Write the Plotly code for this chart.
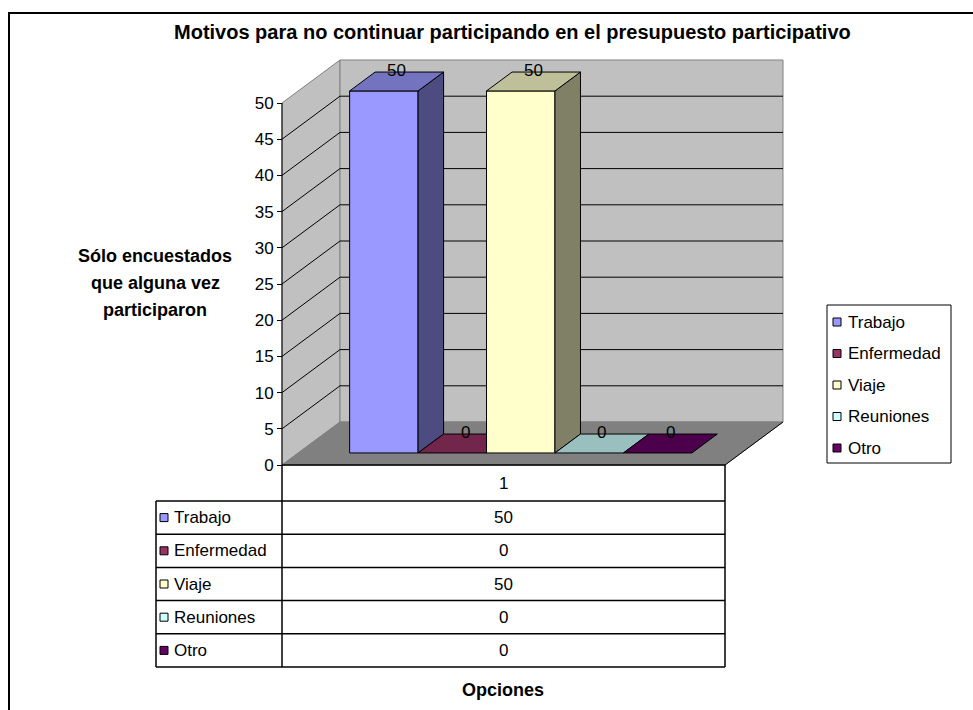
import plotly.graph_objects as go

# ---------------- data ----------------
title_text = "Motivos para no continuar participando en el presupuesto participativo"
y_title_lines = ["Sólo encuestados", "que alguna vez", "participaron"]
x_title = "Opciones"
categories = ["1"]
series = ["Trabajo", "Enfermedad", "Viaje", "Reuniones", "Otro"]
values = [50, 0, 50, 0, 0]
colors = ["#9999FF", "#993366", "#FFFFCC", "#CCFFFF", "#660066"]
y_ticks = [0, 5, 10, 15, 20, 25, 30, 35, 40, 45, 50]

# ---------------- geometry ----------------
W, H = 973, 710
X0, Y0 = 282, 465          # front-floor origin (pixels)
FRONT_W = 443              # front plane width (pixels)
PX_PER_UNIT = 7.24         # pixels per value unit
DEPTH_DX, DEPTH_DY = 58, 43
DXU = DEPTH_DX / FRONT_W
DYU = DEPTH_DY / PX_PER_UNIT
YMAX = max(y_ticks)
BAR_START, BAR_W = 0.116, 0.1545
TF, TB = 0.28, 0.72
FONT = "Liberation Sans, Arial, sans-serif"


def P(u, v, t):
    return u + t * DXU, v + t * DYU


def px(x):
    return x / W


def py(y):
    return 1 - y / H


def shade(hexcol, f):
    h = hexcol.lstrip("#")
    r, g, b = (int(h[i:i + 2], 16) for i in (0, 2, 4))
    return "#%02X%02X%02X" % (round(r * f), round(g * f), round(b * f))


fig = go.Figure()


def poly(pts, fill, line="black", width=1):
    xs = [p[0] for p in pts] + [pts[0][0]]
    ys = [p[1] for p in pts] + [pts[0][1]]
    fig.add_trace(go.Scatter(x=xs, y=ys, mode="lines", fill="toself",
                             fillcolor=fill, line=dict(color=line, width=width),
                             hoverinfo="skip", showlegend=False))


def seg(a, b, color="black", width=1):
    fig.add_trace(go.Scatter(x=[a[0], b[0]], y=[a[1], b[1]], mode="lines",
                             line=dict(color=color, width=width),
                             hoverinfo="skip", showlegend=False))


def text(x, y, s, size=17, xanchor="center", bold=False):
    fig.add_annotation(xref="paper", yref="paper", x=px(x), y=py(y),
                       text=("<b>%s</b>" % s) if bold else s, showarrow=False,
                       xanchor=xanchor, yanchor="middle",
                       font=dict(family=FONT, size=size, color="black"))


# walls and floor
poly([P(0, 0, 0), P(0, 0, 1), P(0, YMAX, 1), P(0, YMAX, 0)], "#C0C0C0", "#808080")
poly([P(0, 0, 1), P(1, 0, 1), P(1, YMAX, 1), P(0, YMAX, 1)], "#C0C0C0", "#808080")
poly([P(0, 0, 0), P(1, 0, 0), P(1, 0, 1), P(0, 0, 1)], "#808080", "#808080")
seg(P(1, 0, 0), P(1, 0, 1))
# gridlines
for k in y_ticks[1:-1]:
    seg(P(0, k, 0), P(0, k, 1))
    seg(P(0, k, 1), P(1, k, 1))

# bars (3D)
for i, (name, v, c) in enumerate(zip(series, values, colors)):
    u0 = BAR_START + i * BAR_W
    u1 = u0 + BAR_W
    if v > 0:
        poly([P(u0, 0, TF), P(u1, 0, TF), P(u1, v, TF), P(u0, v, TF)], c)
        poly([P(u1, 0, TF), P(u1, 0, TB), P(u1, v, TB), P(u1, v, TF)], shade(c, 0.5))
    poly([P(u0, v, TF), P(u1, v, TF), P(u1, v, TB), P(u0, v, TB)], shade(c, 0.75))
    lx, ly = P((u0 + u1) / 2, v, 0.5)
    fig.add_annotation(x=lx, y=ly, xref="x", yref="y", text=str(v), showarrow=False,
                       xanchor="center", yanchor="bottom",
                       font=dict(family=FONT, size=17, color="black"))

# value axis line
seg(P(0, 0, 0), P(0, YMAX, 0))

shapes = []
# data table
row_top = 501
row_h = (667 - 501) / len(series)
table_right = X0 + FRONT_W
L = dict(color="black", width=1.5)
shapes.append(dict(type="line", xref="paper", yref="paper", x0=px(X0), x1=px(table_right),
                   y0=py(Y0), y1=py(Y0), line=L))
for r in range(len(series) + 1):
    yy = row_top + r * row_h
    shapes.append(dict(type="line", xref="paper", yref="paper", x0=px(156), x1=px(table_right),
                       y0=py(yy), y1=py(yy), line=L))
shapes.append(dict(type="line", xref="paper", yref="paper", x0=px(156), x1=px(156),
                   y0=py(row_top), y1=py(667), line=L))
shapes.append(dict(type="line", xref="paper", yref="paper", x0=px(X0), x1=px(X0),
                   y0=py(Y0), y1=py(667), line=L))
shapes.append(dict(type="line", xref="paper", yref="paper", x0=px(table_right), x1=px(table_right),
                   y0=py(Y0), y1=py(667), line=L))
text((X0 + table_right) / 2, (Y0 + row_top) / 2, categories[0])
for r, (name, v, c) in enumerate(zip(series, values, colors)):
    yc = row_top + (r + 0.5) * row_h
    shapes.append(dict(type="rect", xref="paper", yref="paper", x0=px(160), x1=px(168),
                       y0=py(yc - 4), y1=py(yc + 4), fillcolor=c,
                       line=dict(color="black", width=1)))
    text(172, yc, name, xanchor="left")
    text((X0 + table_right) / 2, yc, str(v))

# legend (custom)
shapes.append(dict(type="rect", xref="paper", yref="paper", x0=px(827), x1=px(951),
                   y0=py(305), y1=py(463), line=dict(color="black", width=1), fillcolor="white"))
for r, (name, c) in enumerate(zip(series, colors)):
    yc = 322 + r * 31.5
    shapes.append(dict(type="rect", xref="paper", yref="paper", x0=px(833), x1=px(841),
                       y0=py(yc - 4), y1=py(yc + 4), fillcolor=c,
                       line=dict(color="black", width=1)))
    text(846, yc, name, xanchor="left")

# outer border
shapes.append(dict(type="rect", xref="paper", yref="paper", x0=px(9), x1=px(990),
                   y0=py(13), y1=py(730), line=dict(color="black", width=2)))

# titles
text(512, 32, title_text, size=20, bold=True)
for j, line in enumerate(y_title_lines):
    text(155, 256 + 27 * j, line, size=18, bold=True)
text(503, 690, x_title, size=18, bold=True)

fig.update_layout(
    width=W, height=H, margin=dict(l=0, r=0, t=0, b=0, autoexpand=False),
    paper_bgcolor="white", plot_bgcolor="white", showlegend=False,
    shapes=shapes,
    xaxis=dict(range=[-X0 / FRONT_W, (W - X0) / FRONT_W], domain=[0, 1],
               showgrid=False, zeroline=False, showticklabels=False, ticks="", showline=False,
               fixedrange=True),
    yaxis=dict(range=[(Y0 - H) / PX_PER_UNIT, Y0 / PX_PER_UNIT], domain=[0, 1],
               anchor="free", position=X0 / W, tickvals=y_ticks, ticks="outside", ticklen=5,
               tickcolor="black", tickwidth=1, showgrid=False, zeroline=False, showline=False,
               tickfont=dict(family=FONT, size=17, color="black"), fixedrange=True),
)

fig.write_html("out.html", config={"displayModeBar": False},
               post_script="document.body.style.margin='0';")
